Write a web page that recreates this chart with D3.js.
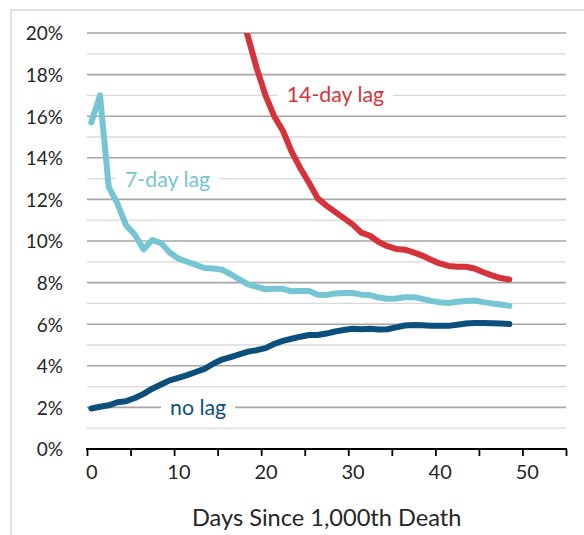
<!DOCTYPE html>
<html>
<head>
<meta charset="utf-8">
<script src="https://cdn.jsdelivr.net/npm/d3@7"></script>
<style>
  html, body { margin: 0; padding: 0; background: #fff; }
  svg { display: block; font-family: Lato, "Open Sans", sans-serif; }
</style>
</head>
<body>
<svg id="chart" width="584" height="535"></svg>
<script>
// ---- data ----
const days = d3.range(0, 49);
const noLag = [1.95, 2.03, 2.1, 2.25, 2.3, 2.45, 2.65, 2.9, 3.1, 3.3,
  3.42, 3.55, 3.7, 3.85, 4.1, 4.3, 4.42, 4.55, 4.68, 4.75,
  4.85, 5.05, 5.2, 5.3, 5.4, 5.48, 5.48, 5.55, 5.65, 5.72,
  5.78, 5.76, 5.78, 5.74, 5.76, 5.85, 5.94, 5.96, 5.95, 5.93,
  5.92, 5.92, 5.97, 6.03, 6.06, 6.06, 6.05, 6.03, 6.01];
const lag7 = [15.7, 17.0, 12.6, 11.8, 10.75, 10.3, 9.6, 10.05, 9.9, 9.45,
  9.15, 9.0, 8.85, 8.7, 8.68, 8.62, 8.4, 8.15, 7.92, 7.8,
  7.68, 7.7, 7.7, 7.58, 7.6, 7.6, 7.42, 7.4, 7.48, 7.5,
  7.5, 7.42, 7.4, 7.28, 7.22, 7.24, 7.3, 7.3, 7.22, 7.12,
  7.05, 7.02, 7.08, 7.12, 7.14, 7.06, 7.0, 6.95, 6.88];
const lag14Days = d3.range(16, 49);
const lag14 = [22.8, 21.3, 19.8, 18.3, 17.0, 16.0, 15.3, 14.3, 13.5, 12.8,
  12.05, 11.7, 11.4, 11.1, 10.8, 10.4, 10.25, 9.95, 9.75, 9.62,
  9.58, 9.45, 9.3, 9.1, 8.92, 8.8, 8.76, 8.76, 8.68, 8.5,
  8.35, 8.22, 8.15];
const yTicks = [0, 2, 4, 6, 8, 10, 12, 14, 16, 18, 20];
const yMinor = [1, 3, 5, 7, 9, 11, 13, 15, 17, 19];
const xTicks = [0, 5, 10, 15, 20, 25, 30, 35, 40, 45, 50, 55];
const xLabels = [0, 10, 20, 30, 40, 50];
const seriesNames = ["no lag", "7-day lag", "14-day lag"];
const colors = ["#0b4f7c", "#76c5d5", "#d5323c"];
const xTitle = "Days Since 1,000th Death";

// ---- layout ----
const svg = d3.select("#chart");
const plotL = 87, plotR = 566, plotT = 33, plotB = 449;
const tickShift = -4.3;
const x = d3.scaleLinear().domain([0, 55]).range([91.3, 570.3]);
const y = d3.scaleLinear().domain([0, 20]).range([plotB, plotT]);

// outer border
svg.append("rect").attr("x", 11).attr("y", 10).attr("width", 700).attr("height", 700)
  .attr("fill", "none").attr("stroke", "#d9d9d9").attr("stroke-width", 1.5);

// minor gridlines
svg.append("g").selectAll("line").data(yMinor).join("line")
  .attr("x1", plotL).attr("x2", plotR)
  .attr("y1", d => y(d)).attr("y2", d => y(d))
  .attr("stroke", "#d9d9d9").attr("stroke-width", 1.3);
// major gridlines
svg.append("g").selectAll("line").data(yTicks.filter(d => d > 0)).join("line")
  .attr("x1", plotL).attr("x2", plotR)
  .attr("y1", d => y(d)).attr("y2", d => y(d))
  .attr("stroke", "#a6a6a6").attr("stroke-width", 1.6);

// y axis labels
const yAxis = d3.axisLeft(y).tickValues(yTicks).tickFormat(d => d + "%").tickSize(0).tickPadding(0);
const gy = svg.append("g").attr("transform", "translate(63,0)").call(yAxis);
gy.select(".domain").remove();
gy.selectAll("text").attr("font-size", 19).attr("fill", "#262626")
  .attr("font-family", "Lato, sans-serif").attr("dy", "0.36em");

// x axis
const xAxis = d3.axisBottom(x).tickValues(xTicks)
  .tickFormat(d => xLabels.includes(d) ? d : "").tickSize(7).tickPadding(9);
const gx = svg.append("g").attr("transform", `translate(0,${plotB})`).call(xAxis);
gx.select(".domain").remove();
gx.selectAll(".tick line").attr("transform", `translate(${tickShift},0)`)
  .attr("stroke", "#000").attr("stroke-width", 1.8);
gx.selectAll("text").attr("font-size", 20).attr("fill", "#262626")
  .attr("font-family", "Lato, sans-serif");
svg.append("line").attr("x1", plotL - 1).attr("x2", plotR + 1)
  .attr("y1", plotB).attr("y2", plotB).attr("stroke", "#000").attr("stroke-width", 2);

// x title
svg.append("text").attr("x", 326.7).attr("y", 526).attr("text-anchor", "middle")
  .attr("font-size", 23.6).attr("fill", "#262626").text(xTitle);

// series labels with white backgrounds
const labelSpecs = [
  { name: seriesNames[0], x: 170, y: 415, c: colors[0] },
  { name: seriesNames[1], x: 125, y: 186.7, c: colors[1] },
  { name: seriesNames[2], x: 286.7, y: 101.5, c: colors[2] }
];
labelSpecs.forEach(s => {
  const g = svg.append("g");
  const r = g.append("rect").attr("fill", "#fff");
  const t = g.append("text").attr("x", s.x).attr("y", s.y).attr("font-size", 21.3)
    .attr("fill", s.c).text(s.name);
  const b = t.node().getBBox();
  r.attr("x", b.x - 9).attr("y", b.y).attr("width", b.width + 18).attr("height", b.height);
});

// clip for lines
svg.append("clipPath").attr("id", "clip").append("rect")
  .attr("x", 0).attr("y", plotT).attr("width", 584).attr("height", plotB - plotT + 20);

const line = d3.line().x(d => x(d[0])).y(d => y(d[1]));
const seriesData = [
  days.map((d, i) => [d, noLag[i]]),
  days.map((d, i) => [d, lag7[i]]),
  lag14Days.map((d, i) => [d, lag14[i]])
];
svg.append("g").attr("clip-path", "url(#clip)").selectAll("path").data(seriesData).join("path")
  .attr("d", line).attr("fill", "none")
  .attr("stroke", (d, i) => colors[i]).attr("stroke-width", 6)
  .attr("stroke-linecap", "round").attr("stroke-linejoin", "round");
</script>
</body>
</html>
